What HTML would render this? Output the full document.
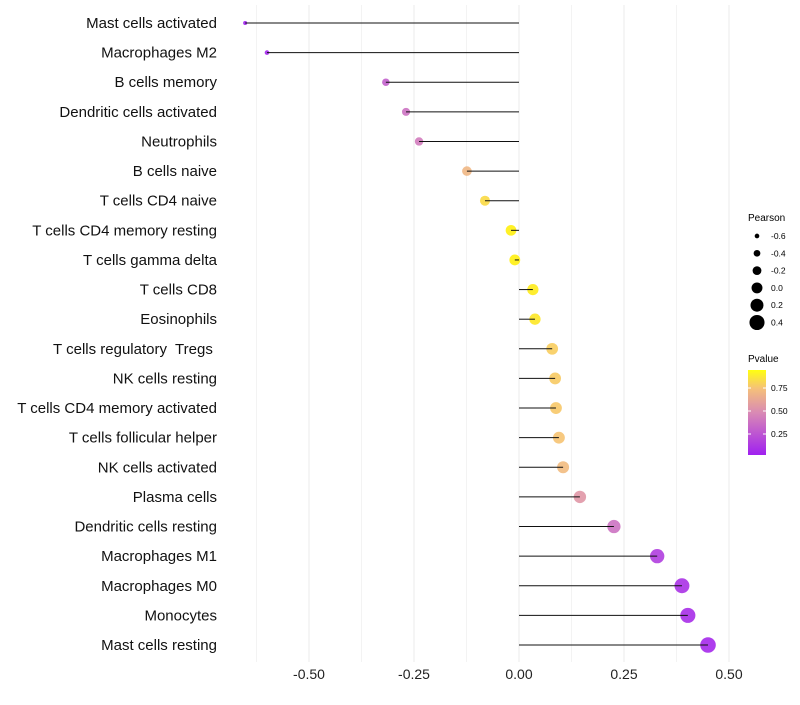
<!DOCTYPE html>
<html><head><meta charset="utf-8"><style>
body{margin:0;background:#fff;font-family:"Liberation Sans",sans-serif}
svg text{font-family:"Liberation Sans",sans-serif}
</style></head><body>
<svg id="chart" width="800" height="700" viewBox="0 0 800 700" xmlns="http://www.w3.org/2000/svg">
<defs><linearGradient id="pg" x1="0" y1="1" x2="0" y2="0">
<stop offset="0" stop-color="#a020f0"/><stop offset="0.5" stop-color="#d98ab4"/><stop offset="0.78" stop-color="#f5c07a"/><stop offset="1" stop-color="#ffff10"/></linearGradient></defs>
<g id="grid"></g><g id="dots"></g><g id="marks"></g><g id="labels"></g><g id="xaxis"></g>
<g id="sizeLegend"><text x="748" y="221" font-size="10">Pearson</text></g>
<g><text x="748" y="362" font-size="10">Pvalue</text>
<rect x="748" y="370" width="18" height="85" fill="url(#pg)"/>
<line x1="748" y1="388" x2="751" y2="388" stroke="#fff"/><line x1="763" y1="388" x2="766" y2="388" stroke="#fff"/>
<line x1="748" y1="411" x2="751" y2="411" stroke="#fff"/><line x1="763" y1="411" x2="766" y2="411" stroke="#fff"/>
<line x1="748" y1="434" x2="751" y2="434" stroke="#fff"/><line x1="763" y1="434" x2="766" y2="434" stroke="#fff"/>
<text x="771" y="391" font-size="8.5">0.75</text><text x="771" y="414" font-size="8.5">0.50</text><text x="771" y="437" font-size="8.5">0.25</text></g>
</svg>
<script>
const cells=["Mast cells activated","Macrophages M2","B cells memory","Dendritic cells activated","Neutrophils","B cells naive","T cells CD4 naive","T cells CD4 memory resting","T cells gamma delta","T cells CD8","Eosinophils","T cells regulatory\u00a0 Tregs\u00a0","NK cells resting","T cells CD4 memory activated","T cells follicular helper","NK cells activated","Plasma cells","Dendritic cells resting","Macrophages M1","Macrophages M0","Monocytes","Mast cells resting"];
const pearson=[-0.652,-0.60,-0.317,-0.269,-0.238,-0.124,-0.081,-0.019,-0.01,0.033,0.038,0.079,0.086,0.088,0.095,0.105,0.145,0.226,0.329,0.388,0.402,0.45];
const pvalue=[0.03,0.05,0.3,0.38,0.42,0.7,0.85,0.96,0.97,0.93,0.91,0.8,0.79,0.78,0.76,0.72,0.55,0.38,0.15,0.1,0.08,0.06];
const xTicks=[-0.5,-0.25,0,0.25,0.5];
const xTickLabels=["-0.50","-0.25","0.00","0.25","0.50"];
const legendVals=[-0.6,-0.4,-0.2,0.0,0.2,0.4];
const legendLabels=["-0.6","-0.4","-0.2","0.0","0.2","0.4"];
const NS="http://www.w3.org/2000/svg";
const x=v=>519+v*420;
const y=i=>23+i*(622/21);
const r=v=>2+(v+0.66)/1.11*5.8;
function mk(t,a,p){const e=document.createElementNS(NS,t);for(const k in a)e.setAttribute(k,a[k]);p.appendChild(e);return e;}
function lerp(a,b,t){return a.map((c,i)=>Math.round(c+(b[i]-c)*t));}
function col(p){const st=[[0,[160,32,240]],[0.5,[217,138,180]],[0.78,[245,192,122]],[1,[255,240,16]]];
 const q=(p-0.02)/0.93;const t=Math.max(0,Math.min(1,q));
 for(let i=1;i<st.length;i++){if(t<=st[i][0]){const c=lerp(st[i-1][1],st[i][1],(t-st[i-1][0])/(st[i][0]-st[i-1][0]));return `rgb(${c})`;}}return "rgb(255,240,16)";}
const G=document.getElementById('grid'),D=document.getElementById('dots'),M=document.getElementById('marks'),L=document.getElementById('labels'),X=document.getElementById('xaxis');
for(let v=-0.625;v<=0.5;v+=0.125){const gl=mk('line',{x1:x(v),x2:x(v),y1:5,y2:662,stroke:'#ebebeb','stroke-width':Math.abs((v*4)%1)<1e-6?1:0.6},G);

}
xTicks.forEach((v,i)=>{const t=mk('text',{x:x(v),y:679,'font-size':14,'text-anchor':'middle',fill:'#222'},X);t.textContent=xTickLabels[i];

});
cells.forEach((c,i)=>{
 const d=mk('circle',{cx:x(pearson[i]),cy:y(i),r:r(pearson[i]),fill:col(pvalue[i]),'fill-opacity':0.9},D);
 
 
 const ln=mk('line',{x1:x(0),x2:x(pearson[i]),y1:y(i),y2:y(i),stroke:'#111','stroke-width':1},M);
 
 
 const t=mk('text',{x:217,y:y(i)+5,'font-size':15,'text-anchor':'end',fill:'#111'},L);t.textContent=c;
 
 
});
const S=document.getElementById('sizeLegend');
legendVals.forEach((v,i)=>{const yy=236+i*17.3;
 const c=mk('circle',{cx:757,cy:yy,r:r(v),fill:'#000'},S);
 
 
 const t=mk('text',{x:771,y:yy+3,'font-size':8.5},S);t.textContent=legendLabels[i];
 
 });
</script>
</body></html>
